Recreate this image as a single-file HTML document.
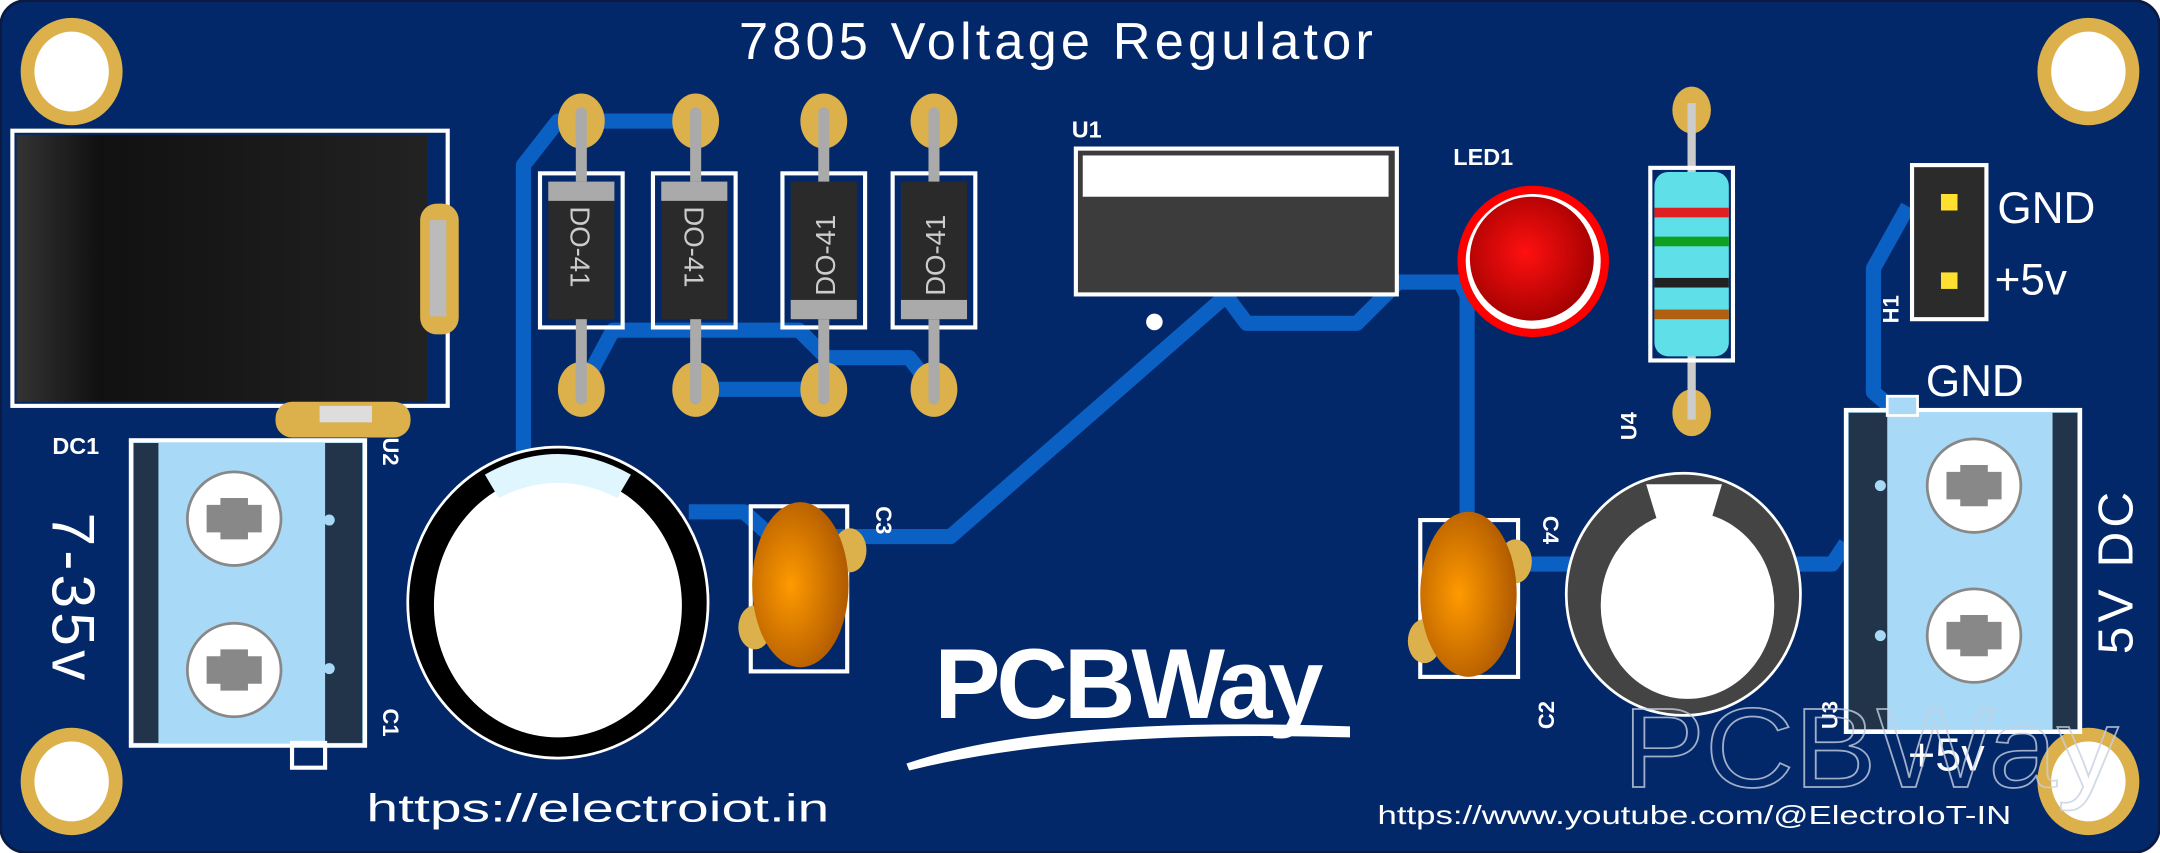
<!DOCTYPE html>
<html><head><meta charset="utf-8"><style>
html,body{margin:0;padding:0;background:#fff;width:2160px;height:853px;overflow:hidden}
svg{display:block}
text{font-family:"Liberation Sans",sans-serif;fill:#fff}
</style></head><body>
<svg width="2160" height="853" viewBox="0 0 1568 620" preserveAspectRatio="none">
<defs>
<radialGradient id="org" cx="0.4" cy="0.5" r="0.6"><stop offset="0" stop-color="#ff9a00"/><stop offset="1" stop-color="#b05a00"/></radialGradient>
<radialGradient id="red" cx="0.45" cy="0.45" r="0.6"><stop offset="0" stop-color="#ff1010"/><stop offset="1" stop-color="#a00000"/></radialGradient>
<linearGradient id="blk" x1="0" x2="1"><stop offset="0" stop-color="#333"/><stop offset="0.2" stop-color="#111"/><stop offset="1" stop-color="#222"/></linearGradient>
</defs>
<rect x="0" y="0" width="1568" height="620" rx="18" fill="#03286a"/>
<rect x="0.5" y="0.5" width="1567" height="619" rx="18" fill="none" stroke="#0a1a40" stroke-width="2"/>
<g fill="none" stroke="#0b60c4" stroke-width="11" stroke-linejoin="round">
<path d="M422 88 L405 88 L380 120 L380 320 L380 330"/>
<path d="M422 88 L505 88"/>
<path d="M422 283 L445 240 L580 240 L600 260 L660 260 L678 283"/>
<path d="M505 283 L598 283"/>
<path d="M500 372 L540 372 L560 390 L690 390 L890 215 L905 235 L985 235 L1015 205 L1060 205 L1065 215 L1065 380"/>
<path d="M1105 410 L1140 410"/>
<path d="M1300 410 L1330 410 L1340 395"/>
<path d="M1385 150 L1360 195 L1360 285 L1375 298"/>
</g>
<g fill="#fff" stroke="#dcb04a" stroke-width="10">
<ellipse cx="52" cy="52" rx="32" ry="34"/><ellipse cx="1516" cy="52" rx="32" ry="34"/>
<ellipse cx="52" cy="568" rx="32" ry="34"/><ellipse cx="1516" cy="568" rx="32" ry="34"/>
</g>
<text x="768" y="43" font-size="38" text-anchor="middle" letter-spacing="3">7805  Voltage  Regulator</text>
<rect x="9" y="95" width="316" height="200" fill="none" stroke="#fff" stroke-width="3"/>
<rect x="12" y="98" width="298" height="194" fill="url(#blk)"/>
<rect x="305" y="148" width="28" height="95" rx="12" fill="#dcb04a"/>
<rect x="312" y="160" width="12" height="70" fill="#bbb"/>
<rect x="200" y="292" width="98" height="26" rx="12" fill="#dcb04a"/>
<rect x="232" y="295" width="38" height="12" fill="#ddd"/>
<text x="38" y="330" font-size="17" font-weight="bold">DC1</text>
<rect x="95" y="320" width="170" height="222" fill="#a8daf7" stroke="#fff" stroke-width="3"/>
<rect x="97" y="322" width="18" height="218" fill="#22344a"/>
<rect x="236" y="322" width="27" height="218" fill="#22344a"/>
<circle cx="239" cy="378" r="4" fill="#a8daf7"/><circle cx="239" cy="486" r="4" fill="#a8daf7"/>
<g><circle cx="170" cy="377" r="34" fill="#fff" stroke="#888" stroke-width="2"/><path d="M160 362h20v5h10v20h-10v5h-20v-5h-10v-20h10z" fill="#888"/>
<circle cx="170" cy="487" r="34" fill="#fff" stroke="#888" stroke-width="2"/><path d="M160 472h20v5h10v20h-10v5h-20v-5h-10v-20h10z" fill="#888"/></g>
<rect x="212" y="540" width="24" height="18" fill="none" stroke="#fff" stroke-width="3"/>
<text transform="translate(38,435) rotate(90)" font-size="44" text-anchor="middle" letter-spacing="3">7-35v</text>
<text transform="translate(278,515) rotate(90)" font-size="16" font-weight="bold">C1</text>
<text transform="translate(278,318) rotate(90)" font-size="16" font-weight="bold">U2</text>
<g stroke="#fff" stroke-width="3">
<rect x="392" y="126" width="60" height="112" fill="none"/><rect x="474" y="126" width="60" height="112" fill="none"/>
<rect x="568" y="126" width="60" height="112" fill="none"/><rect x="648" y="126" width="60" height="112" fill="none"/>
</g>
<g fill="#dcb04a">
<ellipse cx="422" cy="88" rx="17" ry="20"/><ellipse cx="505" cy="88" rx="17" ry="20"/><ellipse cx="598" cy="88" rx="17" ry="20"/><ellipse cx="678" cy="88" rx="17" ry="20"/>
<ellipse cx="422" cy="283" rx="17" ry="20"/><ellipse cx="505" cy="283" rx="17" ry="20"/><ellipse cx="598" cy="283" rx="17" ry="20"/><ellipse cx="678" cy="283" rx="17" ry="20"/>
</g>
<g stroke="#aaa" stroke-width="8" stroke-linecap="round">
<line x1="422" y1="82" x2="422" y2="290"/><line x1="505" y1="82" x2="505" y2="290"/><line x1="598" y1="82" x2="598" y2="290"/><line x1="678" y1="82" x2="678" y2="290"/>
</g>
<g fill="#2a2a2a">
<rect x="398" y="132" width="48" height="100"/><rect x="480" y="132" width="48" height="100"/><rect x="574" y="132" width="48" height="100"/><rect x="654" y="132" width="48" height="100"/>
</g>
<g fill="#aaa">
<rect x="398" y="132" width="48" height="14"/><rect x="480" y="132" width="48" height="14"/><rect x="574" y="218" width="48" height="14"/><rect x="654" y="218" width="48" height="14"/>
</g>
<g font-size="20">
<text transform="translate(414,150) rotate(90)" style="fill:#ccc">DO-41</text>
<text transform="translate(497,150) rotate(90)" style="fill:#ccc">DO-41</text>
<text transform="translate(606,215) rotate(-90)" style="fill:#ccc">DO-41</text>
<text transform="translate(686,215) rotate(-90)" style="fill:#ccc">DO-41</text>
</g>
<text x="778" y="100" font-size="17" font-weight="bold">U1</text>
<rect x="781" y="108" width="233" height="106" fill="#3c3c3c" stroke="#fff" stroke-width="3"/>
<rect x="786" y="113" width="222" height="30" fill="#fff"/>
<circle cx="838" cy="234" r="6" fill="#fff"/>
<text x="1055" y="120" font-size="17" font-weight="bold">LED1</text>
<circle cx="1113" cy="190" r="55" fill="#ff0000"/>
<circle cx="1113" cy="190" r="49" fill="#fff"/>
<circle cx="1112" cy="188" r="45" fill="url(#red)"/>
<ellipse cx="1228" cy="80" rx="14" ry="17" fill="#dcb04a"/><ellipse cx="1228" cy="300" rx="14" ry="17" fill="#dcb04a"/>
<line x1="1228" y1="75" x2="1228" y2="305" stroke="#ccc" stroke-width="6"/>
<rect x="1198" y="122" width="60" height="140" fill="none" stroke="#fff" stroke-width="3"/>
<rect x="1201" y="125" width="54" height="134" rx="10" fill="#5fe0e8"/>
<rect x="1201" y="151" width="54" height="7" fill="#e02020"/>
<rect x="1201" y="172" width="54" height="7" fill="#10a020"/>
<rect x="1201" y="202" width="54" height="7" fill="#222"/>
<rect x="1201" y="225" width="54" height="7" fill="#b06010"/>
<text transform="translate(1188,320) rotate(-90)" font-size="16" font-weight="bold">U4</text>
<rect x="1388" y="120" width="54" height="112" fill="#2b2b2b" stroke="#fff" stroke-width="3"/>
<rect x="1409" y="141" width="12" height="12" fill="#ffe030"/><rect x="1409" y="198" width="12" height="12" fill="#ffe030"/>
<text x="1450" y="162" font-size="32">GND</text>
<text x="1448" y="214" font-size="32">+5v</text>
<text transform="translate(1378,235) rotate(-90)" font-size="16" font-weight="bold">H1</text>
<ellipse cx="405" cy="438" rx="109" ry="113" fill="#000" stroke="#fff" stroke-width="2"/>
<ellipse cx="405" cy="440" rx="90" ry="96" fill="#fff"/>
<path d="M352 345 Q405 315 458 345 L448 362 Q405 340 362 362 Z" fill="#dff6ff"/>
<rect x="545" y="368" width="70" height="120" fill="none" stroke="#fff" stroke-width="3"/>
<ellipse cx="617" cy="400" rx="12" ry="16" fill="#dcb04a"/><ellipse cx="548" cy="456" rx="12" ry="16" fill="#dcb04a"/>
<ellipse cx="581" cy="425" rx="35" ry="60" fill="url(#org)"/>
<text transform="translate(636,368) rotate(90)" font-size="16" font-weight="bold">C3</text>
<rect x="1031" y="378" width="71" height="114" fill="none" stroke="#fff" stroke-width="3"/>
<ellipse cx="1100" cy="408" rx="12" ry="16" fill="#dcb04a"/><ellipse cx="1034" cy="466" rx="12" ry="16" fill="#dcb04a"/>
<ellipse cx="1066" cy="432" rx="35" ry="60" fill="url(#org)"/>
<text transform="translate(1120,375) rotate(90)" font-size="16" font-weight="bold">C4</text>
<text transform="translate(1128,530) rotate(-90)" font-size="16" font-weight="bold">C2</text>
<ellipse cx="1222" cy="432" rx="85" ry="88" fill="#444" stroke="#fff" stroke-width="2"/>
<ellipse cx="1225" cy="440" rx="63" ry="68" fill="#fff"/>
<path d="M1195 352 L1250 352 L1240 385 L1205 385 Z" fill="#fff"/>
<rect x="1340" y="298" width="170" height="234" fill="#a8daf7" stroke="#fff" stroke-width="3"/>
<rect x="1342" y="300" width="28" height="230" fill="#22344a"/>
<rect x="1490" y="300" width="18" height="230" fill="#22344a"/>
<rect x="1370" y="288" width="22" height="14" fill="#a8daf7" stroke="#fff" stroke-width="2"/>
<circle cx="1365" cy="353" r="4" fill="#a8daf7"/><circle cx="1365" cy="462" r="4" fill="#a8daf7"/>
<circle cx="1433" cy="353" r="34" fill="#fff" stroke="#888" stroke-width="2"/><path d="M1423 338h20v5h10v20h-10v5h-20v-5h-10v-20h10z" fill="#888"/>
<circle cx="1433" cy="462" r="34" fill="#fff" stroke="#888" stroke-width="2"/><path d="M1423 447h20v5h10v20h-10v5h-20v-5h-10v-20h10z" fill="#888"/>
<text x="1398" y="288" font-size="32">GND</text>
<text transform="translate(1548,415) rotate(-90)" font-size="36" text-anchor="middle" letter-spacing="3">5V  DC</text>
<text transform="translate(1334,530) rotate(-90)" font-size="16" font-weight="bold">U3</text>
<text x="1385" y="560" font-size="34">+5v</text>
<text x="1178" y="572" font-size="82" textLength="360" lengthAdjust="spacingAndGlyphs" style="fill:none;stroke:#c8d0e0;stroke-width:1.2;opacity:0.8">PCBWay</text>
<text x="818" y="522" font-size="72" font-weight="bold" text-anchor="middle" letter-spacing="-3">PCBWay</text>
<path d="M658 555 Q760 520 980 528 L980 536 Q780 530 660 560 Z" fill="#fff"/>
<text x="266" y="597" font-size="28" textLength="336" lengthAdjust="spacingAndGlyphs">https://electroiot.in</text>
<text x="1000" y="599" font-size="19" textLength="460" lengthAdjust="spacingAndGlyphs">https://www.youtube.com/@ElectroIoT-IN</text>
</svg>
</body></html>
